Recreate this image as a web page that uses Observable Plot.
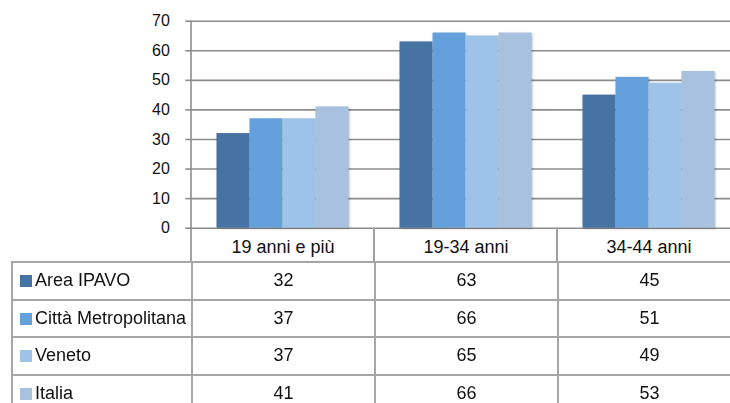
<!DOCTYPE html>
<html>
<head>
<meta charset="utf-8">
<script src="https://cdn.jsdelivr.net/npm/d3@7"></script>
<script src="https://cdn.jsdelivr.net/npm/@observablehq/plot@0.6"></script>
<style>
  html, body { margin: 0; padding: 0; background: #fff; overflow: hidden; }
  #wrap { position: relative; width: 730px; height: 403px; overflow: hidden; background: #fff;
          font-family: "Liberation Sans", Arial, sans-serif; }
  #chart { position: absolute; left: 0; top: 0; width: 740px; }
  #chart svg { max-width: none !important; }
  #tbl { position: absolute; left: 11px; top: 261px; border-collapse: collapse; table-layout: fixed;
         font-family: "Liberation Sans", Arial, sans-serif; font-size: 18px; color: #111; }
  #tbl td { border: 2px solid #a6a6a6; height: 35.5px; padding: 0; text-align: center; white-space: nowrap; overflow: hidden; }
  #tbl td.lab { text-align: left; padding-left: 7px; }
  .sw { display: inline-block; width: 12px; height: 12px; margin-right: 3px; vertical-align: -1px; }
</style>
</head>
<body>
<div id="wrap">
  <div id="chart"></div>
</div>
<script>
const categories = ["19 anni e più", "19-34 anni", "34-44 anni"];
const series = ["Area IPAVO", "Città Metropolitana", "Veneto", "Italia"];
const areaIPAVO = [32, 63, 45];
const cittaMetropolitana = [37, 66, 51];
const veneto = [37, 65, 49];
const italia = [41, 66, 53];
const yTicks = [0, 10, 20, 30, 40, 50, 60, 70];
const colors = ["#4672a4", "#64a0dc", "#9ec3e8", "#a7c1df"];

const seriesValues = [areaIPAVO, cittaMetropolitana, veneto, italia];
const rows = [];
series.forEach((s, i) => categories.forEach((c, j) => rows.push({cat: c, series: s, value: seriesValues[i][j]})));

const grid = "#8c8c8c";
const plot = Plot.plot({
  width: 740,
  height: 262,
  marginLeft: 190.5,
  marginRight: 0.5,
  marginTop: 20.7,
  marginBottom: 34.3,
  style: {background: "#fff", fontFamily: "'Liberation Sans', Arial, sans-serif", color: "#111", overflow: "visible", maxWidth: "none"},
  fx: {domain: categories, padding: 0},
  x: {domain: series, paddingInner: 0, paddingOuter: 0.77, axis: null},
  y: {domain: [0, 70], axis: null},
  color: {domain: series, range: colors},
  marks: [
    Plot.ruleY(yTicks, {stroke: grid, strokeWidth: 1.6}),
    Plot.barY(rows, {fx: "cat", x: "series", y: "value", fill: "series"}),
    Plot.axisY({ticks: yTicks, tickSize: 5.7, tickPadding: 16, fontSize: 16, label: null, stroke: grid, strokeWidth: 1.6, strokeOpacity: 1, fill: "#111"}),
    Plot.axisFx({anchor: "bottom", tickSize: 0, tickPadding: 12.5, fontSize: 18, label: null, fill: "#111"})
  ]
});
document.getElementById("chart").appendChild(plot);

// bar shadow
d3.select(plot).selectAll("g[aria-label='bar']").style("filter", "drop-shadow(1.5px 1px 1px rgba(0,0,0,0.25))");

// vertical axis line and header-row separators, placed from the fx scale
const fx = plot.scale("fx");
const yS = plot.scale("y");
const svg = d3.select(plot);
const y0 = yS.apply(0), yTop = yS.apply(70);
categories.forEach((c, i) => {
  const xp = fx.apply(c);
  svg.append("line").attr("x1", xp).attr("x2", xp)
    .attr("y1", i === 0 ? yTop : y0).attr("y2", 262)
    .attr("stroke", i === 0 ? grid : "#a0a0a0").attr("stroke-width", i === 0 ? 1.6 : 2);
});

// data table below
const table = document.createElement("table");
table.id = "tbl";
const colg = document.createElement("colgroup");
const firstW = fx.apply(categories[0]) - 11;
[firstW, fx.bandwidth, fx.bandwidth, fx.bandwidth].forEach(w => {
  const col = document.createElement("col"); col.style.width = w + "px"; colg.appendChild(col);
});
table.appendChild(colg);
series.forEach((s, i) => {
  const tr = document.createElement("tr");
  const td0 = document.createElement("td");
  td0.className = "lab";
  td0.innerHTML = `<span class="sw" style="background:${colors[i]}"></span>${s}`;
  tr.appendChild(td0);
  seriesValues[i].forEach(v => {
    const td = document.createElement("td"); td.textContent = v; tr.appendChild(td);
  });
  table.appendChild(tr);
});
table.style.width = (firstW + 3 * fx.bandwidth) + "px";
document.getElementById("wrap").appendChild(table);
</script>
</body>
</html>
